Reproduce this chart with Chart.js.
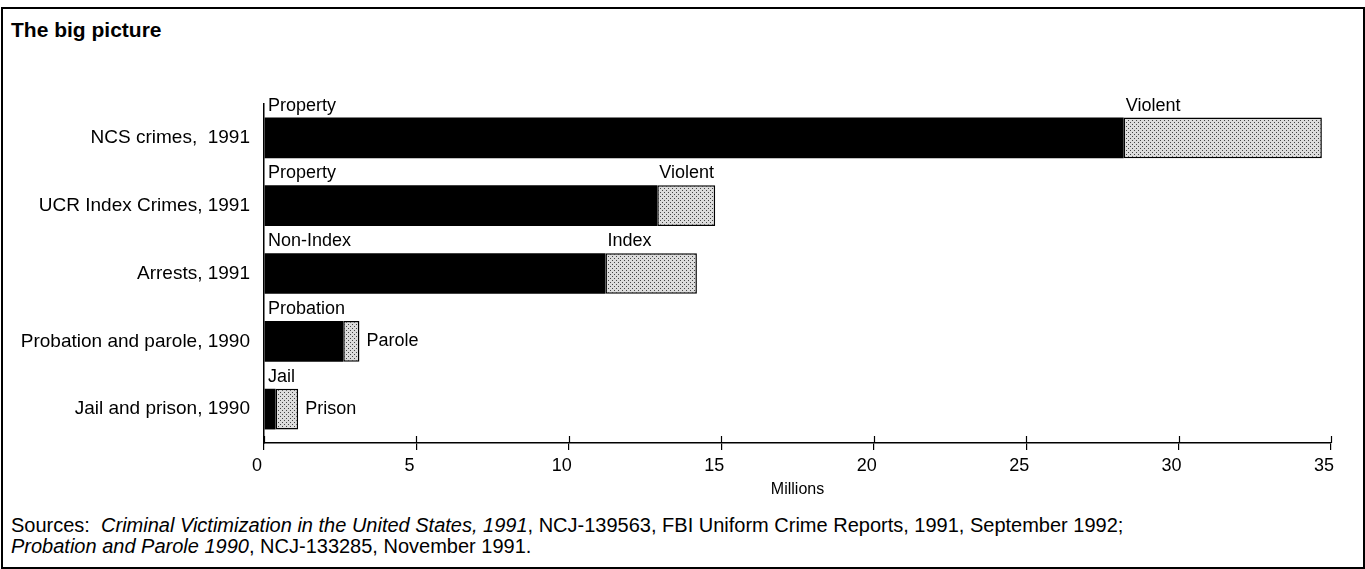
<!DOCTYPE html>
<html><head><meta charset="utf-8">
<script src="https://cdn.jsdelivr.net/npm/chart.js"></script>
<style>
html,body{margin:0;padding:0;background:#fff;}
#wrap{position:relative;width:1365px;height:569px;overflow:hidden;font-family:"Liberation Sans",Arial,sans-serif;color:#000;}
#frame{position:absolute;left:1px;top:7px;width:1360px;height:558px;border:2px solid #000;}
#title{position:absolute;left:11px;top:18px;font-size:21px;font-weight:bold;line-height:24px;}
#src{position:absolute;left:11px;top:515px;font-size:20px;line-height:21px;}
canvas{position:absolute;left:0;top:0;}
</style></head><body>
<div id="wrap">
<div id="frame"></div>
<div id="title">The big picture</div>
<div id="src">Sources:&nbsp; <i>Criminal Victimization in the United States, 1991</i>, NCJ-139563, FBI Uniform Crime Reports, 1991, September 1992;<br><i>Probation and Parole 1990</i>, NCJ-133285, November 1991.</div>
<canvas id="c" width="1365" height="569"></canvas>
</div>
<script>
const categories = ["NCS crimes,  1991", "UCR Index Crimes, 1991", "Arrests, 1991", "Probation and parole, 1990", "Jail and prison, 1990"];
const firstValues = [28.2, 12.9, 11.2, 2.6, 0.38];
const secondValues = [6.5, 1.9, 3.0, 0.53, 0.74];
const firstLabels = ["Property", "Property", "Non-Index", "Probation", "Jail"];
const secondLabels = ["Violent", "Violent", "Index", "Parole", "Prison"];
const xTicks = [0, 5, 10, 15, 20, 25, 30, 35];
const axisTitle = "Millions";

const FONT = '"Liberation Sans", Arial, sans-serif';

function makePattern() {
  const p = document.createElement('canvas');
  p.width = 4; p.height = 4;
  const g = p.getContext('2d');
  g.fillStyle = '#dcdcdc'; g.fillRect(0, 0, 4, 4);
  g.fillStyle = '#444';
  g.fillRect(0, 0, 1, 1); g.fillRect(2, 2, 1, 1);
  return g.createPattern(p, 'repeat');
}

const segLabels = {
  id: 'segLabels',
  afterDatasetsDraw(chart) {
    const ctx = chart.ctx, x = chart.scales.x;
    const m0 = chart.getDatasetMeta(0);
    ctx.save();
    ctx.fillStyle = '#000';
    ctx.font = '18px ' + FONT;
    categories.forEach((c, i) => {
      const bar = m0.data[i];
      const top = bar.y - bar.height / 2;
      ctx.textAlign = 'left'; ctx.textBaseline = 'alphabetic';
      ctx.fillText(firstLabels[i], x.getPixelForValue(0) + 4, top - 7);
      const s = x.getPixelForValue(firstValues[i]);
      const e = x.getPixelForValue(firstValues[i] + secondValues[i]);
      const w = ctx.measureText(secondLabels[i]).width;
      if (e - s >= w) {
        ctx.fillText(secondLabels[i], s + 2, top - 7);
      } else {
        ctx.textBaseline = 'middle';
        ctx.fillText(secondLabels[i], e + 7, bar.y);
      }
    });
    ctx.restore();
  },
  afterDraw(chart) {
    const ctx = chart.ctx, x = chart.scales.x, b = chart.chartArea.bottom;
    ctx.save();
    ctx.strokeStyle = '#000'; ctx.lineWidth = 1.2;
    x.ticks.forEach(t => {
      const px = Math.round(x.getPixelForValue(t.value)) + 0.5;
      ctx.beginPath(); ctx.moveTo(px, b - 7); ctx.lineTo(px, b); ctx.stroke();
    });
    ctx.restore();
  }
};

new Chart(document.getElementById('c'), {
  type: 'bar',
  data: {
    labels: categories,
    datasets: [
      { data: firstValues, backgroundColor: '#000', borderWidth: 0, categoryPercentage: 1, barPercentage: 0.6 },
      { data: secondValues, backgroundColor: makePattern(), borderColor: '#000', borderWidth: 1.5, borderSkipped: false, categoryPercentage: 1, barPercentage: 0.6 }
    ]
  },
  options: {
    indexAxis: 'y',
    responsive: false,
    animation: false,
    layout: { padding: { left: 0, right: 34, top: 104, bottom: 70 } },
    plugins: { legend: { display: false }, tooltip: { enabled: false }, title: { display: false } },
    scales: {
      x: {
        type: 'linear', stacked: true, min: xTicks[0], max: xTicks[xTicks.length - 1],
        afterBuildTicks: s => { s.ticks = xTicks.map(v => ({ value: v })); },
        ticks: { color: '#000', font: { family: FONT, size: 18 }, padding: 5, labelOffset: -7, maxRotation: 0 },
        grid: { display: true, drawOnChartArea: false, drawTicks: true, tickLength: 7, color: '#000', lineWidth: 1.2 },
        border: { display: true, color: '#000', width: 1.5 },
        title: { display: true, text: axisTitle, color: '#000', font: { family: FONT, size: 16 }, padding: { top: 0, bottom: 0 } },
        afterFit: s => { s.height = 56; }
      },
      y: {
        type: 'category', stacked: true,
        ticks: { color: '#000', font: { family: FONT, size: 19 }, padding: 14 },
        grid: { display: false, drawTicks: false },
        border: { display: true, color: '#000', width: 1.5 },
        afterFit: s => { s.width = 264; }
      }
    }
  },
  plugins: [segLabels]
});
</script>
</body></html>
